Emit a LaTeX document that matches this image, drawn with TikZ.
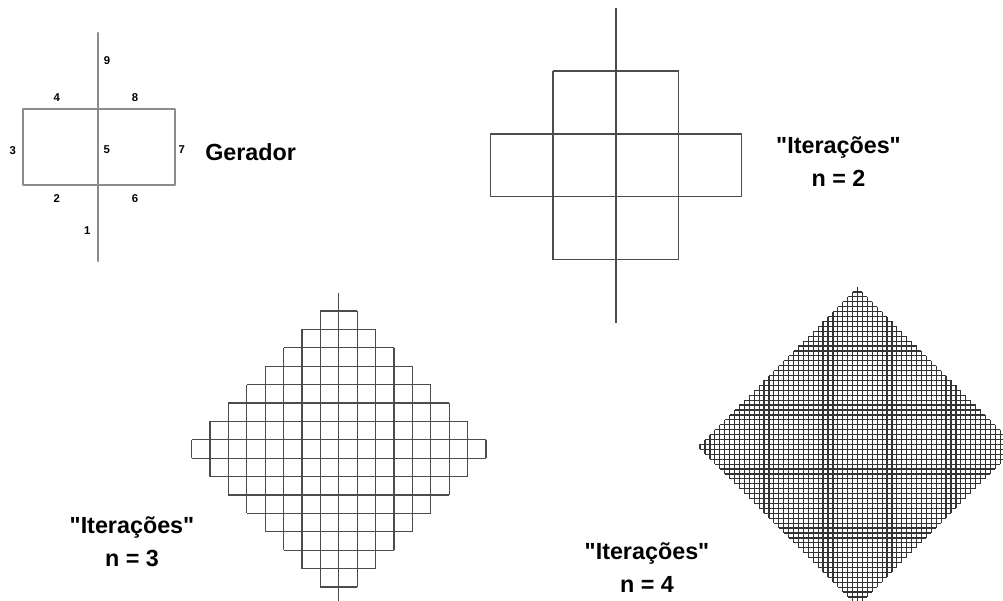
\documentclass[tikz,border=0pt]{standalone}
\usepackage{fontspec}
\setmainfont{Liberation Sans}
\newfontfamily\rotulofont{Liberation Sans}
\usetikzlibrary{positioning}
\tikzset{
  gerline/.style={line width=2pt,black!45,line join=round,line cap=round},
  gridline/.style={line width=0.9pt,black!70},
  fineline/.style={line width=0.9pt,black!80},
  rotulo/.style={font=\rotulofont\bfseries\fontsize{17.5}{24.75}\selectfont,align=center,inner sep=0pt},
  numero/.style={font=\bfseries\fontsize{8.5}{10}\selectfont,inner sep=0pt},
}
% #1 estilo, #2 x do centro, #3 y do topo da 1a linha, #4 lado, #5 meia largura
\newcommand{\peanogrid}[5]{%
  \pgfmathtruncatemacro\kmax{2*#5-1}
  \foreach \k [evaluate=\k as \h using {(\k<#5 ? \k+1 : 2*#5-\k)*#4}] in {0,...,\kmax}
    \draw[#1] ({#2-\h},{#3+\k*#4}) -- ({#2+\h},{#3+\k*#4});
  \foreach \j [evaluate=\j as \a using {#3+(abs(\j)-1)*#4},
               evaluate=\j as \b using {#3+(2*#5-abs(\j))*#4}] in {-#5,...,#5}
    \draw[#1] ({#2+\j*#4},\a) -- ({#2+\j*#4},\b);
}

\begin{document}
\begin{tikzpicture}[x=0.75pt,y=-0.75pt]
  \useasboundingbox (0,0) rectangle (1003,600);
  \clip (0,0) rectangle (1003,600);

  % gerador
  \draw[gerline] (98,261) -- ++(0,-76) -- ++(-75,0) -- ++(0,-76) -- ++(75,0)
    -- ++(0,76) -- ++(77,0) -- ++(0,-76) -- ++(-77,0) -- ++(0,-76);
  \foreach \n/\x/\y in {1/87.3/230.7, 2/56.7/198.3, 3/12.7/150.7,
                        4/56.7/97.3, 5/106.7/150, 6/135/198.3,
                        7/181.7/150, 8/135/97.3, 9/107/60.7}
    \node[numero] (s\n) at (\x,\y) {\n};
  \node[rotulo,anchor=base west] (gerador) at (205,160) {Gerador};

  % iteracoes
  \peanogrid{gridline}{615.9}{71}{62.9}{2}
  \peanogrid{gridline}{338.8}{311}{18.4}{8}
  \peanogrid{fineline}{857.5}{291.9}{4.92}{32}

  \node[rotulo] (iter2) at (838.5,161.5) {"Iterações"\\n = 2};
  \node[rotulo] (iter3) at (132,541.5) {"Iterações"\\n = 3};
  \node[rotulo] (iter4) at (647,567.5) {"Iterações"\\n = 4};
\end{tikzpicture}
\end{document}
